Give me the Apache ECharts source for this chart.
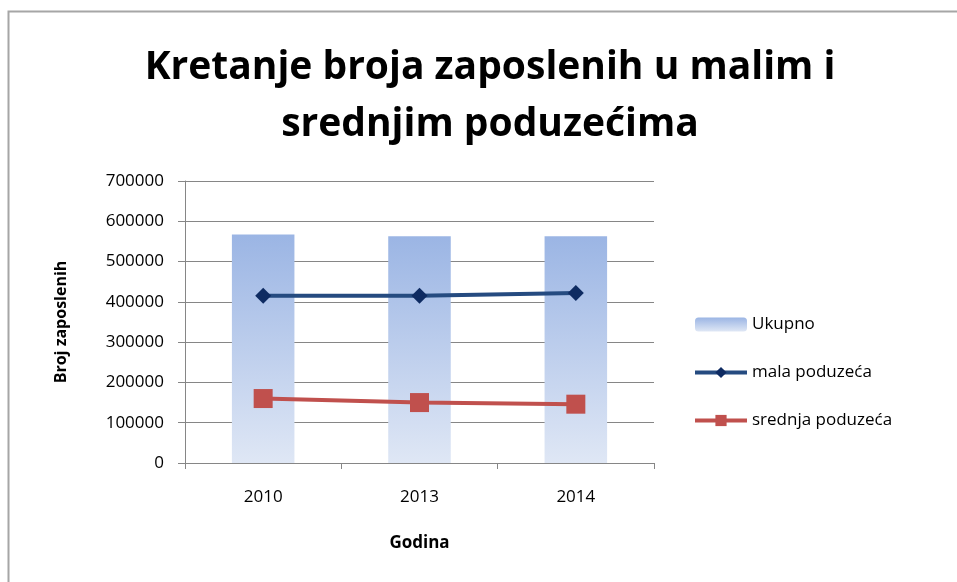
<!DOCTYPE html>
<html>
<head>
<meta charset="utf-8">
<script src="https://cdn.jsdelivr.net/npm/echarts@6/dist/echarts.min.js"></script>
<style>
  html, body { margin: 0; padding: 0; background: #fff; }
  #chart { width: 957px; height: 582px; }
</style>
</head>
<body>
<div id="chart"></div>
<script>
// podaci procijenjeni sa slike
var godine = ['2010', '2013', '2014'];
var ukupno = [567000, 563000, 563000];
var malaPoduzeca = [415000, 415000, 422000];
var srednjaPoduzeca = [160000, 150000, 146000];

var font = 'Open Sans';

var chart = echarts.init(document.getElementById('chart'));

var option = {
  backgroundColor: '#ffffff',
  animation: false,
  title: {
    text: 'Kretanje broja zaposlenih u malim i\nsrednjim poduzećima',
    left: 485,
    top: 34,
    textAlign: 'center',
    textStyle: {
      fontFamily: font,
      fontWeight: 'bold',
      fontSize: 39,
      lineHeight: 57,
      color: '#000'
    }
  },
  graphic: [{
    type: 'rect',
    shape: { x: 8.5, y: 11.5, width: 1000, height: 700 },
    style: { fill: 'none', stroke: '#a6a6a6', lineWidth: 2 },
    silent: true
  }],
  legend: {
    orient: 'vertical',
    left: 693,
    top: 316,
    padding: 0,
    itemWidth: 52,
    itemHeight: 14,
    itemGap: 31,
    textStyle: { fontFamily: font, fontSize: 17, color: '#000' },
    data: [
      { name: 'Ukupno' },
      { name: 'mala poduzeća', lineStyle: { width: 4 } },
      { name: 'srednja poduzeća', lineStyle: { width: 4 } }
    ]
  },
  grid: {
    left: 185,
    right: 303,
    top: 181,
    bottom: 119
  },
  xAxis: {
    type: 'category',
    data: godine,
    name: 'Godina',
    nameLocation: 'middle',
    nameGap: 72,
    nameTextStyle: { fontFamily: font, fontWeight: 'bold', fontSize: 17, color: '#000' },
    axisLine: { lineStyle: { color: '#868686', width: 1 } },
    axisTick: { show: true, length: 6, lineStyle: { color: '#868686' } },
    axisLabel: { fontFamily: font, fontSize: 17, color: '#000', margin: 26 },
    splitLine: { show: false }
  },
  yAxis: {
    type: 'value',
    min: 0,
    max: 700000,
    interval: 100000,
    name: 'Broj zaposlenih',
    nameLocation: 'middle',
    nameGap: 116,
    nameRotate: 90,
    nameTextStyle: { fontFamily: font, fontWeight: 'bold', fontSize: 16, color: '#000' },
    axisLine: { show: true, lineStyle: { color: '#868686', width: 1 } },
    axisTick: { show: true, length: 7, lineStyle: { color: '#868686' } },
    axisLabel: {
      fontFamily: font, fontSize: 17, color: '#000', margin: 21,
      formatter: function (v) { return String(v); }
    },
    splitLine: { show: true, lineStyle: { color: '#868686', width: 1 } }
  },
  series: [
    {
      name: 'Ukupno',
      type: 'bar',
      data: ukupno,
      barWidth: '40%',
      itemStyle: {
        color: new echarts.graphic.LinearGradient(0, 0, 0, 1, [
          { offset: 0, color: '#9bb5e4' },
          { offset: 1, color: '#dfe7f5' }
        ])
      }
    },
    {
      name: 'mala poduzeća',
      type: 'line',
      data: malaPoduzeca,
      symbol: 'diamond',
      symbolSize: 16,
      lineStyle: { color: '#254b80', width: 4 },
      itemStyle: { color: '#0e2b62' },
      z: 5
    },
    {
      name: 'srednja poduzeća',
      type: 'line',
      data: srednjaPoduzeca,
      symbol: 'rect',
      symbolSize: 19,
      lineStyle: { color: '#c0504d', width: 4 },
      itemStyle: { color: '#c0504d' },
      z: 5
    }
  ]
};

chart.setOption(option);
</script>
</body>
</html>
